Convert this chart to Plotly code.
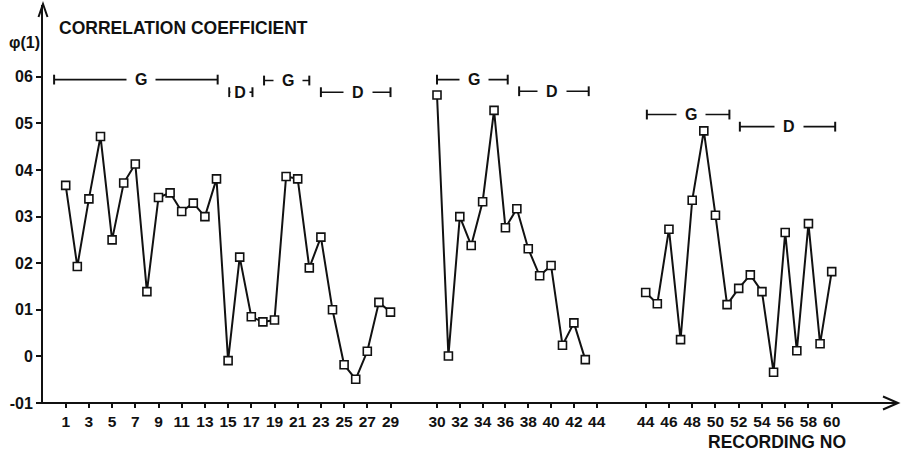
import plotly.graph_objects as go

# Correlation coefficient per recording, split into the three recording sessions
rec_a = list(range(1, 30))
phi_a = [0.367, 0.193, 0.338, 0.472, 0.250, 0.372, 0.413, 0.139, 0.341, 0.351,
         0.311, 0.329, 0.300, 0.381, -0.009, 0.213, 0.085, 0.074, 0.078, 0.386,
         0.381, 0.190, 0.256, 0.100, -0.018, -0.049, 0.011, 0.116, 0.095]
rec_b = list(range(30, 44))
phi_b = [0.561, 0.001, 0.300, 0.238, 0.332, 0.528, 0.276, 0.317, 0.231, 0.173,
         0.195, 0.024, 0.072, -0.007]
rec_c = list(range(44, 61))
phi_c = [0.137, 0.113, 0.273, 0.036, 0.335, 0.484, 0.303, 0.111, 0.146, 0.175,
         0.139, -0.034, 0.266, 0.012, 0.285, 0.027, 0.182]

ticks_a = list(range(1, 30, 2))
ticks_b = list(range(30, 45, 2))
ticks_c = list(range(44, 61, 2))

y_ticks = [-0.1, 0.0, 0.1, 0.2, 0.3, 0.4, 0.5, 0.6]
y_ticktext = ["-01", "0", "01", "02", "03", "04", "05", "06"]

# Condition bars (G / D) above the data: label, start, end, label position, level, session
grp_label = ["G", "D", "G", "D", "G", "D", "G", "D"]
grp_start = [0.0, 15.1, 18.1, 23.0, 30.0, 37.2, 44.1, 52.1]
grp_end = [14.1, 17.1, 22.0, 29.0, 36.2, 43.3, 51.2, 60.3]
grp_text_x = [7.5, 16.0, 20.2, 26.2, 33.2, 40.1, 47.9, 56.3]
grp_level = [0.594, 0.567, 0.592, 0.567, 0.594, 0.569, 0.519, 0.493]
grp_session = ["x", "x", "x", "x", "x2", "x2", "x3", "x3"]

W, H = 901, 454
L, R, T, B = 43, 3, 5, 51
PW, PH = W - L - R, H - T - B
FONT = "Liberation Sans, Arial, sans-serif"
INK = "#111111"


def px_x(p):
    return (p - L) / PW


def px_y(p):
    return (H - B - p) / PH


def session_axis(px_lo, px_hi, r1, p1, r2, p2):
    s = (p2 - p1) / (r2 - r1)
    return [px_x(px_lo), px_x(px_hi)], [r1 + (px_lo - p1) / s, r1 + (px_hi - p1) / s]


dom_a, rng_a = session_axis(L, 415, 1, 65.7, 29, 390.5)
dom_b, rng_b = session_axis(418, 620, 30, 437.0, 44, 596.7)
dom_c, rng_c = session_axis(624, W - R, 44, 645.7, 60, 831.7)

fig = go.Figure()

for xs, ys, ax in [(rec_a, phi_a, "x"), (rec_b, phi_b, "x2"), (rec_c, phi_c, "x3")]:
    fig.add_trace(go.Scatter(
        x=xs, y=ys, xaxis=ax, yaxis="y", mode="lines+markers",
        line=dict(color=INK, width=2),
        marker=dict(symbol="square", size=8, color="white",
                    line=dict(color=INK, width=1.6)),
        showlegend=False, hoverinfo="x+y"))

annotations = []
for lab, a, b, tx, lvl, ax in zip(grp_label, grp_start, grp_end, grp_text_x,
                                  grp_level, grp_session):
    fig.add_trace(go.Scatter(
        x=[a, b], y=[lvl, lvl], xaxis=ax, yaxis="y", mode="lines+markers",
        line=dict(color=INK, width=1.6),
        marker=dict(symbol="line-ns", size=7, line=dict(color=INK, width=2)),
        showlegend=False, hoverinfo="skip"))
    # short bars get a tighter gap around their label
    pad = "\u2009" if (b - a) < 3 else "\u2002"
    annotations.append(dict(
        x=tx, y=lvl, xref=ax, yref="y", text=pad + "<b>" + lab + "</b>" + pad,
        showarrow=False, bgcolor="white", borderpad=0,
        font=dict(family=FONT, size=16, color=INK)))

annotations += [
    dict(x=px_x(57), y=px_y(28), xref="paper", yref="paper", xanchor="left",
         yanchor="middle", text="<b>CORRELATION COEFFICIENT</b>", showarrow=False,
         font=dict(family=FONT, size=17.5, color=INK)),
    dict(x=px_x(7), y=px_y(43), xref="paper", yref="paper", xanchor="left",
         yanchor="middle", text="<b>φ(1)</b>", showarrow=False,
         font=dict(family=FONT, size=16, color=INK)),
    dict(x=px_x(706), y=px_y(442), xref="paper", yref="paper", xanchor="left",
         yanchor="middle", text="<b>RECORDING NO</b>", showarrow=False,
         font=dict(family=FONT, size=17.5, color=INK)),
]

# Axis arrows: horizontal baseline with open arrowhead, and open head on the y axis
shapes = [
    dict(type="line", xref="paper", yref="paper", x0=px_x(37), x1=px_x(898),
         y0=0, y1=0, line=dict(color=INK, width=2)),
    dict(type="path", xref="paper", yref="paper",
         path=f"M {px_x(883)},{px_y(396.5)} L {px_x(898)},{px_y(403)} L {px_x(883)},{px_y(409.5)}",
         line=dict(color=INK, width=2)),
    dict(type="path", xref="paper", yref="paper",
         path=f"M {px_x(38.5)},{px_y(17)} L {px_x(43)},{px_y(4)} L {px_x(47.5)},{px_y(17)}",
         line=dict(color=INK, width=2)),
]

tick_font = dict(family=FONT, size=15.5, color=INK, weight="bold")

xaxis_common = dict(showline=False, showgrid=False, zeroline=False, ticks="outside",
                    ticklen=4, tickwidth=2, tickcolor=INK, anchor="y",
                    tickfont=tick_font)

fig.update_layout(
    width=W, height=H, margin=dict(l=L, r=R, t=T, b=B),
    paper_bgcolor="white", plot_bgcolor="white",
    xaxis=dict(domain=dom_a, range=rng_a, tickvals=ticks_a, **xaxis_common),
    xaxis2=dict(domain=dom_b, range=rng_b, tickvals=ticks_b, **xaxis_common),
    xaxis3=dict(domain=dom_c, range=rng_c, tickvals=ticks_c, **xaxis_common),
    yaxis=dict(range=[-0.1, -0.1 + PH / 466], tickvals=y_ticks, ticktext=y_ticktext,
               showline=True, linewidth=2, linecolor=INK, showgrid=False,
               zeroline=False, ticks="outside", ticklen=5, tickwidth=2,
               tickcolor=INK, tickfont=dict(family=FONT, size=16, color=INK,
                                            weight="bold")),
    annotations=annotations, shapes=shapes,
)

fig.write_html("out.html")
